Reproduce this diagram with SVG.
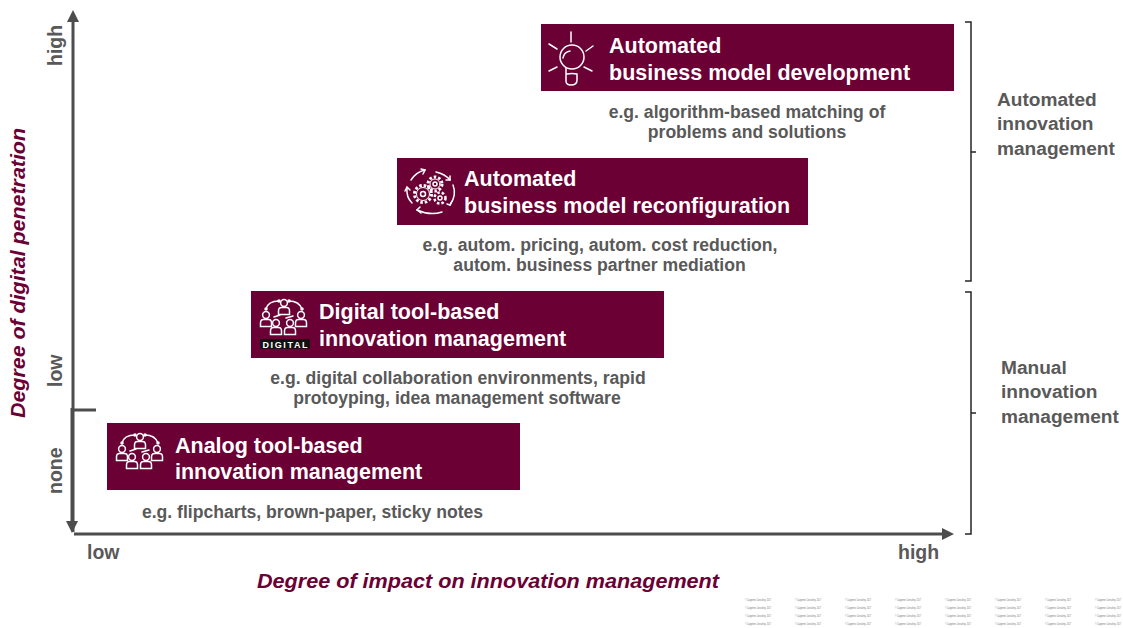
<svg xmlns="http://www.w3.org/2000/svg" xmlns:xlink="http://www.w3.org/1999/xlink" width="1123" height="628" viewBox="0 0 1123 628">
<style>
text{font-family:"Liberation Sans",Arial,sans-serif;font-weight:700}
.box{fill:#6b0035}
.t{fill:#fff;font-size:21.5px}
.s{fill:#595959;font-size:17.600px;text-anchor:middle}
.a{fill:#595959;font-size:19.500px}
.g{fill:#595959;font-size:19.100px}
.axt{fill:#6b0035;font-size:20px;font-style:italic}
.ax{stroke:#4d4d4d;stroke-width:3;fill:none}
.br{stroke:#262626;stroke-width:1.5;fill:none}
.i{stroke:#fff;stroke-width:1.500;fill:none;stroke-linecap:round}
.wm{fill:#777;font-size:3.400px;font-weight:400}
</style>
<defs>
<g id="person"><circle cx="0" cy="0" r="3.400"/><path d="M-5.500 11.500V8Q-5.500 4.500-2.500 4.500H2.500Q5.500 4.500 5.500 8V11.500Z"/></g>
<g id="people" class="i">
<use xlink:href="#person" x="0" y="0"/>
<use xlink:href="#person" x="-18" y="12"/>
<use xlink:href="#person" x="17" y="12"/>
<use xlink:href="#person" x="-8" y="20"/>
<use xlink:href="#person" x="6" y="20"/>
<path d="M-18 6Q-16-2-5-2M5-2Q15-2 18 6M-10 14L-4 12M9 13L2 15"/>
<circle cx="-18" cy="6" r="1" fill="#fff"/><circle cx="18" cy="6" r="1" fill="#fff"/><circle cx="-5" cy="-2" r="1" fill="#fff"/><circle cx="5" cy="-2" r="1" fill="#fff"/>
</g>
<text id="wmrow" class="wm" textLength="26" lengthAdjust="spacingAndGlyphs">© Capgemini Consulting. 2017</text>
</defs>
<g id="connectors">
<path class="ax" d="M73 532V20"/><path d="M67 22L73 10L79 22Z" fill="#4d4d4d"/>
<path class="ax" d="M72 408V522"/><path d="M66 521L72 533L78 521Z" fill="#4d4d4d"/>
<path class="ax" d="M73 410H96"/>
<path class="ax" d="M74 534H944"/><path d="M942 528L954 534L942 540Z" fill="#4d4d4d"/>
<path class="br" d="M965 22H971V281H965M971 152H976"/>
<path class="br" d="M965 292H971V534H965M971 413H976"/>
</g>
<g id="axis-labels">
<text class="axt" transform="translate(25,418) rotate(-90)" textLength="290" lengthAdjust="spacingAndGlyphs">Degree of digital penetration</text>
<text class="axt" x="257" y="588" textLength="462" lengthAdjust="spacingAndGlyphs">Degree of impact on innovation management</text>
<text class="a" transform="translate(62,66) rotate(-90)">high</text>
<text class="a" transform="translate(62,387) rotate(-90)">low</text>
<text class="a" transform="translate(62,494) rotate(-90)">none</text>
<text class="a" x="87" y="559">low</text>
<text class="a" x="898" y="559">high</text>
</g>
<g id="node-automated-development">
<rect class="box" x="541" y="24" width="413" height="67"/>
<g class="i"><circle cx="572" cy="57" r="12"/><path d="M566 68V81Q566 85 571 85Q577 85 577 80V74Q572 73 567 74M563 58Q564 52 570 51M571 32V42M549 44L557 49M593 46L586 51M549 71L557 67M592 71L584 67"/></g>
<text class="t" x="609" y="53">Automated</text>
<text class="t" x="609" y="80">business model development</text>
<text class="s" x="747" y="118">e.g. algorithm-based matching of</text>
<text class="s" x="747" y="138">problems and solutions</text>
</g>
<g id="node-automated-reconfiguration">
<rect class="box" x="397" y="158" width="411" height="67"/>
<g class="i">
<circle cx="423" cy="194" r="8.500" stroke-dasharray="2.500 2" stroke-width="3" stroke-linecap="butt"/><circle cx="423" cy="194" r="6.500" stroke-width="1"/><circle cx="423" cy="194" r="2.500"/>
<circle cx="435" cy="184" r="7" stroke-dasharray="2.500 2" stroke-width="3" stroke-linecap="butt"/><circle cx="435" cy="184" r="5" stroke-width="1"/><circle cx="435" cy="184" r="2"/>
<circle cx="440" cy="198" r="5.500" stroke-dasharray="2.500 2" stroke-width="2.500" stroke-linecap="butt"/><circle cx="440" cy="198" r="2"/>
<path d="M411 180Q416 172 425 170M436 172Q445 174 450 180M453 185Q457 195 450 205M417 210Q430 216 442 212M407 188Q406 197 412 203"/>
<path d="M421 169L425 170L423 174M450 176L450 180L446 180M447 204L450 205L452 201M420 207L417 210L421 213M405 191L407 187L410 190"/>
</g>
<text class="t" x="464" y="186">Automated</text>
<text class="t" x="464" y="213">business model reconfiguration</text>
<text class="s" x="600" y="251">e.g. autom. pricing, autom. cost reduction,</text>
<text class="s" x="599.500" y="271">autom. business partner mediation</text>
</g>
<g id="node-digital-tool">
<rect class="box" x="251" y="291" width="413" height="67"/>
<use xlink:href="#people" x="284" y="303"/>
<rect x="261" y="340" width="48" height="8" fill="#111" stroke="#111" stroke-width="1.500"/>
<text x="285" y="347.500" fill="#fff" font-size="9" text-anchor="middle" textLength="45" lengthAdjust="spacing">DIGITAL</text>
<text class="t" x="319" y="319">Digital tool-based</text>
<text class="t" x="319" y="346">innovation management</text>
<text class="s" x="458" y="384">e.g. digital collaboration environments, rapid</text>
<text class="s" x="457" y="404">protoyping, idea management software</text>
</g>
<g id="node-analog-tool">
<rect class="box" x="107" y="423" width="413" height="67"/>
<use xlink:href="#people" x="140" y="437"/>
<text class="t" x="175" y="453">Analog tool-based</text>
<text class="t" x="175" y="479">innovation management</text>
<text class="s" x="312.500" y="518">e.g. flipcharts, brown-paper, sticky notes</text>
</g>
<g id="group-labels">
<text class="g" x="997" y="106">Automated</text>
<text class="g" x="997" y="130">innovation</text>
<text class="g" x="997" y="155">management</text>
<text class="g" x="1001" y="374">Manual</text>
<text class="g" x="1001" y="398">innovation</text>
<text class="g" x="1001" y="423">management</text>
</g>
<g id="watermark">
<use xlink:href="#wmrow" x="745" y="601"/><use xlink:href="#wmrow" x="745" y="609"/><use xlink:href="#wmrow" x="745" y="617"/><use xlink:href="#wmrow" x="745" y="625"/>
<use xlink:href="#wmrow" x="795" y="601"/><use xlink:href="#wmrow" x="795" y="609"/><use xlink:href="#wmrow" x="795" y="617"/><use xlink:href="#wmrow" x="795" y="625"/>
<use xlink:href="#wmrow" x="845" y="601"/><use xlink:href="#wmrow" x="845" y="609"/><use xlink:href="#wmrow" x="845" y="617"/><use xlink:href="#wmrow" x="845" y="625"/>
<use xlink:href="#wmrow" x="895" y="601"/><use xlink:href="#wmrow" x="895" y="609"/><use xlink:href="#wmrow" x="895" y="617"/><use xlink:href="#wmrow" x="895" y="625"/>
<use xlink:href="#wmrow" x="945" y="601"/><use xlink:href="#wmrow" x="945" y="609"/><use xlink:href="#wmrow" x="945" y="617"/><use xlink:href="#wmrow" x="945" y="625"/>
<use xlink:href="#wmrow" x="995" y="601"/><use xlink:href="#wmrow" x="995" y="609"/><use xlink:href="#wmrow" x="995" y="617"/><use xlink:href="#wmrow" x="995" y="625"/>
<use xlink:href="#wmrow" x="1045" y="601"/><use xlink:href="#wmrow" x="1045" y="609"/><use xlink:href="#wmrow" x="1045" y="617"/><use xlink:href="#wmrow" x="1045" y="625"/>
<use xlink:href="#wmrow" x="1095" y="601"/><use xlink:href="#wmrow" x="1095" y="609"/><use xlink:href="#wmrow" x="1095" y="617"/><use xlink:href="#wmrow" x="1095" y="625"/>
</g>
</svg>
